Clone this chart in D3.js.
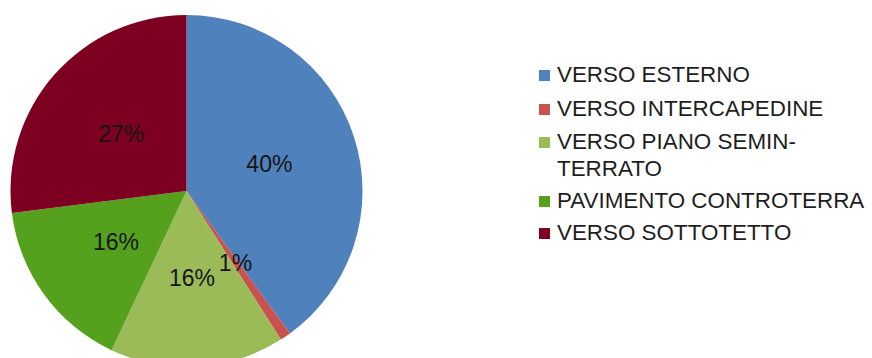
<!DOCTYPE html>
<html>
<head>
<meta charset="utf-8">
<script src="https://cdn.jsdelivr.net/npm/d3@7/dist/d3.min.js"></script>
<style>
  html, body { margin: 0; padding: 0; background: #fff; }
  svg { display: block; }
</style>
</head>
<body>
<svg id="chart" width="872" height="358"></svg>
<script>
// Wall categories and their share of heat loss (percent)
const categories = [
  "VERSO ESTERNO",
  "VERSO INTERCAPEDINE",
  "VERSO PIANO SEMIN-TERRATO",
  "PAVIMENTO CONTROTERRA",
  "VERSO SOTTOTETTO"
];
const legendLines = [
  ["VERSO ESTERNO"],
  ["VERSO INTERCAPEDINE"],
  ["VERSO PIANO SEMIN-", "TERRATO"],
  ["PAVIMENTO CONTROTERRA"],
  ["VERSO SOTTOTETTO"]
];
const values = [40, 1, 16, 16, 27];
const colors = ["#4f81bd", "#c9524e", "#9bbb59", "#55a01c", "#7e0021"];

const svg = d3.select("#chart");
const font = "'Liberation Sans', Arial, sans-serif";

const cx = 186.5, cy = 191, r = 176;

const color = d3.scaleOrdinal().domain(categories).range(colors);

const pie = d3.pie().sort(null).value(d => d.value);
const data = categories.map((c, i) => ({ name: c, value: values[i] }));
const arcs = pie(data);

const arc = d3.arc().innerRadius(0).outerRadius(r);
const labelArc = d3.arc().innerRadius(r * 0.495).outerRadius(r * 0.495);

const g = svg.append("g").attr("transform", `translate(${cx},${cy})`);

g.selectAll("path.slice")
  .data(arcs)
  .join("path")
  .attr("class", "slice")
  .attr("d", arc)
  .attr("fill", d => color(d.data.name));

g.selectAll("text.pct")
  .data(arcs)
  .join("text")
  .attr("class", "pct")
  .attr("transform", d => `translate(${labelArc.centroid(d)})`)
  .attr("text-anchor", "middle")
  .attr("dy", "0.36em")
  .attr("font-family", font)
  .attr("font-size", 23)
  .attr("fill", "#151515")
  .text(d => d.data.value + "%");

// Legend
const legendX = 539, textX = 557;
const itemBaselines = [82, 116, 149, 208, 240];
const lineGap = 27;

const legend = svg.append("g");
const items = legend.selectAll("g.item")
  .data(categories)
  .join("g")
  .attr("class", "item");

items.append("rect")
  .attr("x", legendX)
  .attr("y", (d, i) => itemBaselines[i] - 12)
  .attr("width", 11)
  .attr("height", 11)
  .attr("fill", d => color(d));

items.append("text")
  .attr("font-family", font)
  .attr("font-size", 22.4)
  .attr("fill", "#1e1e1e")
  .attr("y", (d, i) => itemBaselines[i])
  .selectAll("tspan")
  .data((d, i) => legendLines[i])
  .join("tspan")
  .attr("x", textX)
  .attr("dy", (t, j) => j === 0 ? 0 : lineGap)
  .text(t => t);
</script>
</body>
</html>
